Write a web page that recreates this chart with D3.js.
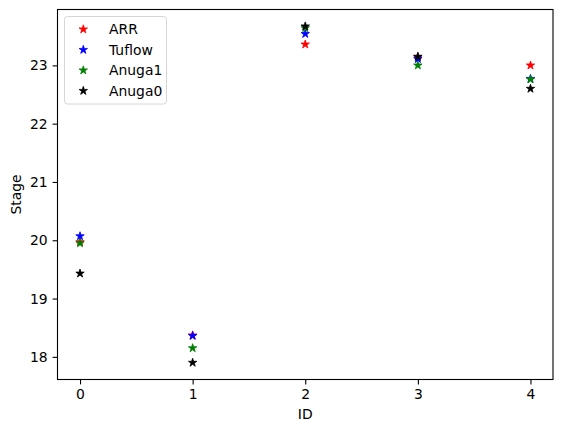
<!DOCTYPE html>
<html>
<head>
<meta charset="utf-8">
<script src="https://cdn.jsdelivr.net/npm/d3@7"></script>
<style>
  body { margin: 0; background: #fff; }
  svg { display: block; font-family: "DejaVu Sans", sans-serif; }
</style>
</head>
<body>
<div id="chart"></div>
<script>
// ids on the x axis
const ids = [0, 1, 2, 3, 4];

// stage values per model
const arr    = [19.97, 18.37, 23.36, 23.14, 23.00];
const tuflow = [20.07, 18.36, 23.54, 23.11, 22.77];
const anuga1 = [19.95, 18.15, 23.64, 23.00, 22.76];
const anuga0 = [19.43, 17.90, 23.67, 23.15, 22.60];

const seriesNames = ['ARR', 'Tuflow', 'Anuga1', 'Anuga0'];
const seriesColors = ['#ff0000', '#0000ff', '#008000', '#000000'];

const xTicks = [0, 1, 2, 3, 4];
const yTicks = [18, 19, 20, 21, 22, 23];

let margin = {top: 9.5, right: 10, bottom: 52.5, left: 57.5};
let width = 563 - margin.left - margin.right;
let height = 432 - margin.top - margin.bottom;

let svg = d3.select('#chart').append('svg')
    .attr('width', 563)
    .attr('height', 432);

let g = svg.append('g')
    .attr('transform', 'translate(' + margin.left + ',' + margin.top + ')');

// matplotlib style 5% padding
let all = arr.concat(tuflow, anuga1, anuga0);
let yMin = d3.min(all), yMax = d3.max(all);
let pad = (yMax - yMin) * 0.05;

let x = d3.scaleLinear().domain([-0.2, 4.2]).range([0, width]);
let y = d3.scaleLinear().domain([yMin - pad, yMax + pad]).range([height, 0]);

// axes
let xAxis = g.append('g')
    .attr('transform', 'translate(0,' + height + ')')
    .call(d3.axisBottom(x).tickValues(xTicks).tickFormat(d3.format('d')).tickSize(4.9).tickPadding(4.9));
let yAxis = g.append('g')
    .call(d3.axisLeft(y).tickValues(yTicks).tickFormat(d3.format('d')).tickSize(4.9).tickPadding(4.9));

[xAxis, yAxis].forEach(a => {
    a.select('.domain').remove();
    a.selectAll('text').attr('font-size', 13.9).attr('fill', '#000').attr('font-family', '"DejaVu Sans", sans-serif');
    a.selectAll('line').attr('stroke', '#000').attr('stroke-width', 1.1);
});

// frame
g.append('rect')
    .attr('width', width)
    .attr('height', height)
    .attr('fill', 'none')
    .attr('stroke', '#000')
    .attr('stroke-width', 1.1);

let star = d3.symbol().type(d3.symbolStar).size(22);

// points
let allSeries = [arr, tuflow, anuga1, anuga0];
allSeries.forEach((vals, i) => {
    g.append('g').selectAll('path')
        .data(vals)
        .join('path')
        .attr('d', star)
        .attr('transform', (d, j) => 'translate(' + x(ids[j]) + ',' + y(d) + ')')
        .attr('fill', seriesColors[i])
        .attr('stroke', seriesColors[i])
        .attr('stroke-width', 0.8)
        .attr('stroke-linejoin', 'miter');
});

// axis labels
svg.append('text')
    .attr('x', margin.left + width / 2)
    .attr('y', 419)
    .attr('text-anchor', 'middle')
    .attr('font-size', 13.9)
    .text('ID');

svg.append('text')
    .attr('transform', 'translate(21,' + (margin.top + height / 2) + ') rotate(-90)')
    .attr('text-anchor', 'middle')
    .attr('font-size', 13.9)
    .text('Stage');

// legend
let legend = svg.append('g').attr('transform', 'translate(64.5,16.5)');
legend.append('rect')
    .attr('width', 102)
    .attr('height', 87.5)
    .attr('rx', 3)
    .attr('fill', '#fff')
    .attr('fill-opacity', 0.8)
    .attr('stroke', '#d6d6d6')
    .attr('stroke-width', 1);

seriesNames.forEach((name, i) => {
    let row = legend.append('g').attr('transform', 'translate(0,' + (12.8 + i * 20.5) + ')');
    row.append('path')
        .attr('d', star)
        .attr('transform', 'translate(18.8,0)')
        .attr('fill', seriesColors[i])
        .attr('stroke', seriesColors[i])
        .attr('stroke-width', 0.8);
    row.append('text')
        .attr('x', 44.5)
        .attr('dy', '0.35em')
        .attr('font-size', 13.9)
        .text(name);
});
</script>
</body>
</html>
